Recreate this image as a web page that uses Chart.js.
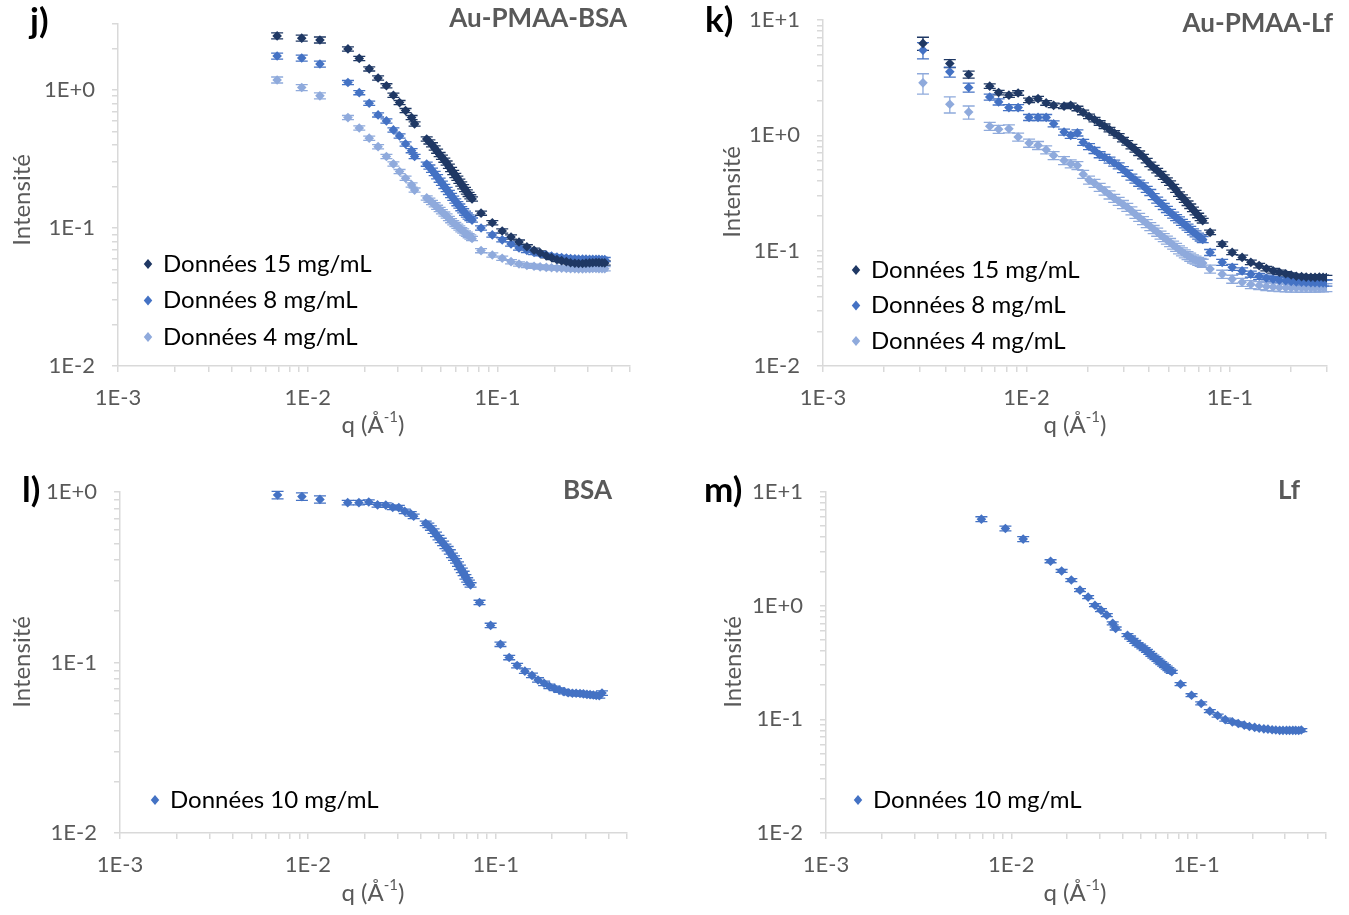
<!DOCTYPE html>
<html>
<head>
<meta charset="utf-8">
<script src="https://cdn.jsdelivr.net/npm/chart.js@4.4.0/dist/chart.umd.min.js"></script>
<style>
  body { margin: 0; background: #fff; }
  .panel { position: absolute; width: 674px; height: 457px; }
</style>
</head>
<body>
<div class="panel" style="left:0;top:0"><canvas id="chartJ" width="674" height="457"></canvas></div>
<div class="panel" style="left:675px;top:0"><canvas id="chartK" width="674" height="457"></canvas></div>
<div class="panel" style="left:0;top:458px"><canvas id="chartL" width="674" height="457"></canvas></div>
<div class="panel" style="left:675px;top:458px"><canvas id="chartM" width="674" height="457"></canvas></div>
<script>
// q (Å-1) grid used by the BSA, Lf and Au-PMAA-BSA runs
const qJ = [0.0069, 0.0093, 0.0116,
  0.0163, 0.0187, 0.0211, 0.0235, 0.0260, 0.0283, 0.0305, 0.0328, 0.0353, 0.0366,
  0.0424, 0.0438, 0.0452, 0.0467, 0.0481, 0.0496, 0.0510, 0.0525, 0.0540, 0.0555, 0.0570,
  0.0585, 0.0600, 0.0615, 0.0630, 0.0645, 0.0660, 0.0675, 0.0690, 0.0705, 0.0720, 0.0735,
  0.082, 0.094, 0.106, 0.118, 0.130, 0.143, 0.156, 0.168, 0.181, 0.193, 0.206, 0.218,
  0.231, 0.243, 0.256, 0.268, 0.281, 0.293, 0.306, 0.318, 0.331, 0.343, 0.356, 0.368];

// q grid of the Au-PMAA-Lf run
const qK = [0.0031, 0.0042, 0.0052,
  0.0066, 0.0073, 0.0082, 0.0091, 0.0103, 0.0114, 0.0125, 0.0136, 0.0153, 0.0165, 0.0178,
  0.0190, 0.0203, 0.0216, 0.0229, 0.0242, 0.0256, 0.0270, 0.0284, 0.0298, 0.0313, 0.0328,
  0.0343, 0.0358, 0.0374, 0.0390, 0.0406, 0.0422, 0.0439, 0.0456, 0.0473, 0.0490, 0.0508,
  0.0526, 0.0544, 0.0562, 0.0581, 0.0600, 0.0619, 0.0638, 0.0658, 0.0678, 0.0698, 0.0718, 0.0735,
  0.0799, 0.0916, 0.1026, 0.1148, 0.1267, 0.1392, 0.151, 0.163, 0.175, 0.188, 0.200, 0.212,
  0.225, 0.237, 0.250, 0.262, 0.275, 0.287, 0.298];

// j) Au-PMAA-BSA
const jI15 = [2.46, 2.37, 2.30,
  1.98, 1.69, 1.42, 1.22, 1.07, 0.915, 0.809, 0.708, 0.630, 0.567,
  0.441, 0.42, 0.40, 0.38, 0.36, 0.34, 0.325, 0.31, 0.295, 0.28, 0.265,
  0.252, 0.240, 0.229, 0.218, 0.208, 0.199, 0.190, 0.182, 0.175, 0.168, 0.162,
  0.128, 0.109, 0.095, 0.086, 0.079, 0.073, 0.069, 0.066, 0.063, 0.061, 0.059, 0.058,
  0.057, 0.056, 0.0555, 0.0552, 0.0553, 0.0556, 0.0558, 0.056, 0.0562, 0.0561, 0.056, 0.0558];
const jI8 = [1.76, 1.70, 1.54,
  1.13, 0.955, 0.80, 0.659, 0.596, 0.513, 0.464, 0.406, 0.363, 0.329,
  0.290, 0.276, 0.262, 0.248, 0.235, 0.222, 0.211, 0.200, 0.190, 0.181, 0.172,
  0.164, 0.157, 0.150, 0.144, 0.138, 0.133, 0.128, 0.124, 0.120, 0.117, 0.114,
  0.100, 0.089, 0.082, 0.0766, 0.0716, 0.0688, 0.0665, 0.065, 0.0635, 0.0625, 0.0615, 0.061,
  0.0605, 0.060, 0.0598, 0.0596, 0.0595, 0.0594, 0.0593, 0.0593, 0.0592, 0.0592, 0.0591, 0.059];
const jI4 = [1.18, 1.04, 0.905,
  0.63, 0.53, 0.447, 0.388, 0.329, 0.291, 0.256, 0.229, 0.205, 0.188,
  0.165, 0.159, 0.153, 0.147, 0.141, 0.136, 0.131, 0.126, 0.122, 0.117, 0.113,
  0.109, 0.106, 0.103, 0.100, 0.097, 0.095, 0.092, 0.090, 0.088, 0.086, 0.084,
  0.0685, 0.0637, 0.0603, 0.057, 0.0548, 0.0535, 0.0528, 0.0522, 0.0518, 0.0515, 0.0512, 0.051,
  0.0508, 0.0507, 0.0506, 0.0505, 0.0505, 0.0506, 0.0507, 0.0508, 0.0508, 0.0507, 0.0506, 0.0506];

// k) Au-PMAA-Lf
const kI15 = [6.27, 4.2, 3.37,
  2.67, 2.35, 2.23, 2.33, 2.01, 2.08, 1.91, 1.82, 1.79, 1.82, 1.71,
  1.58, 1.46, 1.37, 1.28, 1.20, 1.12, 1.05, 0.99, 0.92, 0.86, 0.80,
  0.75, 0.70, 0.655, 0.605, 0.56, 0.525, 0.495, 0.465, 0.435, 0.41, 0.385,
  0.36, 0.335, 0.31, 0.292, 0.275, 0.258, 0.243, 0.228, 0.214, 0.202, 0.191, 0.182,
  0.144, 0.114, 0.0966, 0.0874, 0.0792, 0.0742, 0.070, 0.067, 0.065, 0.063, 0.0615, 0.060,
  0.0595, 0.059, 0.0588, 0.0587, 0.0592, 0.0588, 0.0585];
const kI8 = [5.48, 3.55, 2.60,
  2.15, 1.95, 1.74, 1.74, 1.43, 1.43, 1.43, 1.26, 1.07, 1.0, 1.05,
  0.87, 0.80, 0.74, 0.68, 0.645, 0.61, 0.575, 0.545, 0.505, 0.47, 0.435,
  0.41, 0.385, 0.365, 0.34, 0.32, 0.295, 0.275, 0.258, 0.242, 0.228, 0.215,
  0.204, 0.194, 0.185, 0.176, 0.168, 0.160, 0.153, 0.146, 0.140, 0.134, 0.129, 0.125,
  0.0966, 0.0792, 0.0717, 0.0668, 0.0626, 0.060, 0.058, 0.0565, 0.0555, 0.0548, 0.054, 0.0535,
  0.0532, 0.053, 0.0528, 0.0527, 0.0526, 0.0525, 0.0525];
const kI4 = [2.85, 1.86, 1.59,
  1.20, 1.13, 1.14, 0.967, 0.857, 0.819, 0.751, 0.67, 0.606, 0.567, 0.548,
  0.46, 0.41, 0.385, 0.355, 0.33, 0.305, 0.285, 0.268, 0.252, 0.238, 0.222,
  0.207, 0.195, 0.183, 0.172, 0.162, 0.153, 0.145, 0.137, 0.130, 0.124, 0.118,
  0.112, 0.107, 0.102, 0.098, 0.094, 0.091, 0.088, 0.085, 0.083, 0.081, 0.0795, 0.078,
  0.0694, 0.0626, 0.0567, 0.0532, 0.051, 0.050, 0.049, 0.0485, 0.048, 0.0478, 0.0476, 0.0475,
  0.0474, 0.0474, 0.0475, 0.0476, 0.0477, 0.0478, 0.048];

// l) BSA 10 mg/mL
const lI10 = [0.96, 0.94, 0.905,
  0.866, 0.866, 0.874, 0.84, 0.838, 0.813, 0.81, 0.77, 0.745, 0.72,
  0.655, 0.637, 0.615, 0.59, 0.565, 0.54, 0.52, 0.50, 0.48, 0.465, 0.445,
  0.425, 0.41, 0.395, 0.378, 0.362, 0.347, 0.333, 0.318, 0.305, 0.295, 0.285,
  0.225, 0.165, 0.128, 0.107, 0.096, 0.089, 0.084, 0.079, 0.0755, 0.0725, 0.0705, 0.069,
  0.0675, 0.0665, 0.066, 0.066, 0.0658, 0.0655, 0.065, 0.0648, 0.0645, 0.064, 0.0638, 0.0662];

// m) Lf 10 mg/mL
const mI10 = [5.77, 4.78, 3.85,
  2.46, 2.02, 1.68, 1.37, 1.19, 1.01, 0.913, 0.825, 0.70, 0.63,
  0.55, 0.525, 0.50, 0.48, 0.46, 0.445, 0.43, 0.415, 0.40, 0.385, 0.37,
  0.357, 0.345, 0.333, 0.322, 0.312, 0.303, 0.294, 0.285, 0.277, 0.269, 0.262,
  0.204, 0.163, 0.138, 0.118, 0.108, 0.0994, 0.095, 0.092, 0.089, 0.0865, 0.085, 0.0835,
  0.0825, 0.082, 0.081, 0.0805, 0.080, 0.080, 0.080, 0.080, 0.080, 0.080, 0.0798, 0.0805];

// relative error bars: first (low q) points, then the rest
const errLowBsa = [0.05, 0.05, 0.05];
const errLowK15 = [0.13, 0.08, 0.07];
const errLowK8 = [0.16, 0.10, 0.09];
const errLowK4 = [0.20, 0.16, 0.13];

const xTickValues = [0.001, 0.01, 0.1];
const xTickLabels = ['1E-3', '1E-2', '1E-1'];
const yTickValues = [0.01, 0.1, 1, 10];
const yTickLabels = ['1E-2', '1E-1', '1E+0', '1E+1'];

const dark = '#1F3864', mid = '#4472C4', light = '#8FAADC';
const grey = '#595959', axisGrey = '#D9D9D9';
const FONT = 'Lato, "Open Sans", sans-serif';

function errs(low, rest, n) {
  return low.concat(new Array(n - low.length).fill(rest));
}

function series(label, q, I, color, low, rest) {
  return {
    label: label,
    data: q.map((v, i) => ({x: v, y: I[i]})),
    backgroundColor: color,
    borderColor: color,
    pointStyle: 'rectRot',
    pointRadius: 4.8,
    pointBorderWidth: 0,
    showLine: false,
    relErr: errs(low, rest, q.length)
  };
}

// all 1..9 x 10^n tick marks between min and max (Excel style minor ticks)
function logTicks(min, max) {
  const out = [];
  for (let e = Math.floor(Math.log10(min)); e <= Math.ceil(Math.log10(max)); e++) {
    for (let m = 1; m < 10; m++) {
      const v = +(m * Math.pow(10, e)).toPrecision(3);
      if (v >= min * 0.999999 && v <= max * 1.000001) out.push({value: v});
    }
  }
  return out;
}

function labelFor(values, labels) {
  return function(v) {
    const i = values.findIndex(t => Math.abs(t - v) / t < 1e-6);
    return i < 0 ? '' : labels[i];
  };
}

const errorBars = {
  id: 'errorBars',
  beforeDatasetsDraw(chart) {
    const ctx = chart.ctx, xs = chart.scales.x, ys = chart.scales.y;
    chart.data.datasets.forEach(ds => {
      ctx.save();
      ctx.strokeStyle = ds.borderColor;
      ctx.lineWidth = 1.3;
      ds.data.forEach((p, i) => {
        const e = p.y * ds.relErr[i];
        const px = xs.getPixelForValue(p.x);
        const t = ys.getPixelForValue(p.y + e), b = ys.getPixelForValue(p.y - e);
        ctx.beginPath();
        ctx.moveTo(px, t); ctx.lineTo(px, b);
        ctx.moveTo(px - 6, t); ctx.lineTo(px + 6, t);
        ctx.moveTo(px - 6, b); ctx.lineTo(px + 6, b);
        ctx.stroke();
      });
      ctx.restore();
    });
  }
};

function diamond(ctx, x, y, r, color) {
  ctx.fillStyle = color;
  ctx.beginPath();
  ctx.moveTo(x, y - r); ctx.lineTo(x + r * 0.85, y); ctx.lineTo(x, y + r); ctx.lineTo(x - r * 0.85, y);
  ctx.closePath();
  ctx.fill();
}

const decor = {
  id: 'decor',
  afterDraw(chart, args, o) {
    const ctx = chart.ctx;
    ctx.save();
    ctx.textBaseline = 'middle';

    ctx.font = 'bold 35px ' + FONT;
    ctx.fillStyle = '#000';
    ctx.textAlign = 'left';
    ctx.fillText(o.tag, o.tagX, o.tagY);

    ctx.font = 'bold 26px ' + FONT;
    ctx.fillStyle = grey;
    ctx.textAlign = 'right';
    ctx.fillText(o.title, o.titleX, o.titleY);

    // y axis title
    ctx.save();
    ctx.translate(o.yTitleX, o.yTitleY);
    ctx.rotate(-Math.PI / 2);
    ctx.font = '24px ' + FONT;
    ctx.textAlign = 'center';
    ctx.fillText('Intensité', 0, 0);
    ctx.restore();

    // x axis title q (Å-1) with superscript
    const big = '24px ' + FONT, small = '15px ' + FONT;
    ctx.textAlign = 'left';
    ctx.font = big;
    const w1 = ctx.measureText('q (Å').width, w3 = ctx.measureText(')').width;
    ctx.font = small;
    const w2 = ctx.measureText('-1').width;
    let x0 = o.xTitleX - (w1 + w2 + w3) / 2;
    ctx.font = big;
    ctx.fillText('q (Å', x0, o.xTitleY);
    ctx.font = small;
    ctx.fillText('-1', x0 + w1, o.xTitleY - 8);
    ctx.font = big;
    ctx.fillText(')', x0 + w1 + w2, o.xTitleY);

    // legend inside the plot
    ctx.font = '24px ' + FONT;
    chart.data.datasets.forEach((ds, i) => {
      const y = o.legY + i * o.legStep;
      diamond(ctx, o.legX, y, 5, ds.backgroundColor);
      ctx.fillStyle = '#000';
      ctx.fillText(ds.label, o.legX + 15, y);
    });
    ctx.restore();
  }
};

function makeChart(id, datasets, p) {
  const a = p.area;
  const W = 674, H = 457;
  return new Chart(document.getElementById(id), {
    type: 'scatter',
    data: { datasets: datasets },
    options: {
      responsive: false,
      animation: false,
      layout: { padding: { left: 0, top: a.top, right: W - a.right, bottom: 0 } },
      scales: {
        x: {
          type: 'logarithmic',
          min: 0.001, max: p.xMax,
          afterFit: s => { s.height = H - a.bottom; s.paddingLeft = 0; s.paddingRight = 0; },
          afterBuildTicks: s => { s.ticks = logTicks(0.001, p.xMax); },
          ticks: {
            callback: labelFor(xTickValues, xTickLabels),
            autoSkip: false, maxRotation: 0, padding: 13,
            color: grey, font: { family: FONT, size: 22 }
          },
          grid: { drawOnChartArea: false, color: axisGrey, tickLength: 6, lineWidth: 1.5 },
          border: { color: axisGrey, width: 1.5 }
        },
        y: {
          type: 'logarithmic',
          min: 0.01, max: p.yMax,
          afterFit: s => { s.width = a.left; s.paddingTop = 0; s.paddingBottom = 0; },
          afterBuildTicks: s => { s.ticks = logTicks(0.01, p.yMax); },
          ticks: {
            callback: labelFor(yTickValues, yTickLabels),
            autoSkip: false, padding: 17,
            color: grey, font: { family: FONT, size: 22 }
          },
          grid: { drawOnChartArea: false, color: axisGrey, tickLength: 6, lineWidth: 1.5 },
          border: { color: axisGrey, width: 1.5 }
        }
      },
      plugins: {
        legend: { display: false },
        tooltip: { enabled: false },
        decor: p.decor
      }
    },
    plugins: [errorBars, decor]
  });
}

makeChart('chartJ', [
  series('Données 15 mg/mL', qJ, jI15, dark, errLowBsa, 0.035),
  series('Données 8 mg/mL', qJ, jI8, mid, errLowBsa, 0.035),
  series('Données 4 mg/mL', qJ, jI4, light, errLowBsa, 0.035)
], {
  xMax: 0.5, yMax: 3,
  area: { left: 118, top: 24, right: 630, bottom: 366 },
  decor: { tag: 'j)', tagX: 30, tagY: 22, title: 'Au-PMAA-BSA', titleX: 627, titleY: 19,
    yTitleX: 22, yTitleY: 200, xTitleX: 373, xTitleY: 425, legX: 148, legY: 264, legStep: 36.5 }
});

makeChart('chartK', [
  series('Données 15 mg/mL', qK, kI15, dark, errLowK15, 0.045),
  series('Données 8 mg/mL', qK, kI8, mid, errLowK8, 0.06),
  series('Données 4 mg/mL', qK, kI4, light, errLowK4, 0.08)
], {
  xMax: 0.3, yMax: 10,
  area: { left: 148, top: 20, right: 652, bottom: 366 },
  decor: { tag: 'k)', tagX: 30, tagY: 21, title: 'Au-PMAA-Lf', titleX: 658, titleY: 24,
    yTitleX: 57, yTitleY: 192, xTitleX: 400, xTitleY: 425, legX: 181, legY: 270, legStep: 35.5 }
});

makeChart('chartL', [
  series('Données 10 mg/mL', qJ, lI10, mid, errLowBsa, 0.03)
], {
  xMax: 0.5, yMax: 1,
  area: { left: 120, top: 34, right: 627, bottom: 375 },
  decor: { tag: 'l)', tagX: 22, tagY: 33, title: 'BSA', titleX: 612, titleY: 33,
    yTitleX: 22, yTitleY: 204, xTitleX: 373, xTitleY: 435, legX: 155, legY: 342, legStep: 36 }
});

makeChart('chartM', [
  series('Données 10 mg/mL', qJ, mI10, mid, errLowBsa, 0.03)
], {
  xMax: 0.5, yMax: 10,
  area: { left: 151, top: 34, right: 651, bottom: 375 },
  decor: { tag: 'm)', tagX: 29, tagY: 33, title: 'Lf', titleX: 625, titleY: 33,
    yTitleX: 58, yTitleY: 204, xTitleX: 400, xTitleY: 435, legX: 183, legY: 342, legStep: 36 }
});
</script>
</body>
</html>
